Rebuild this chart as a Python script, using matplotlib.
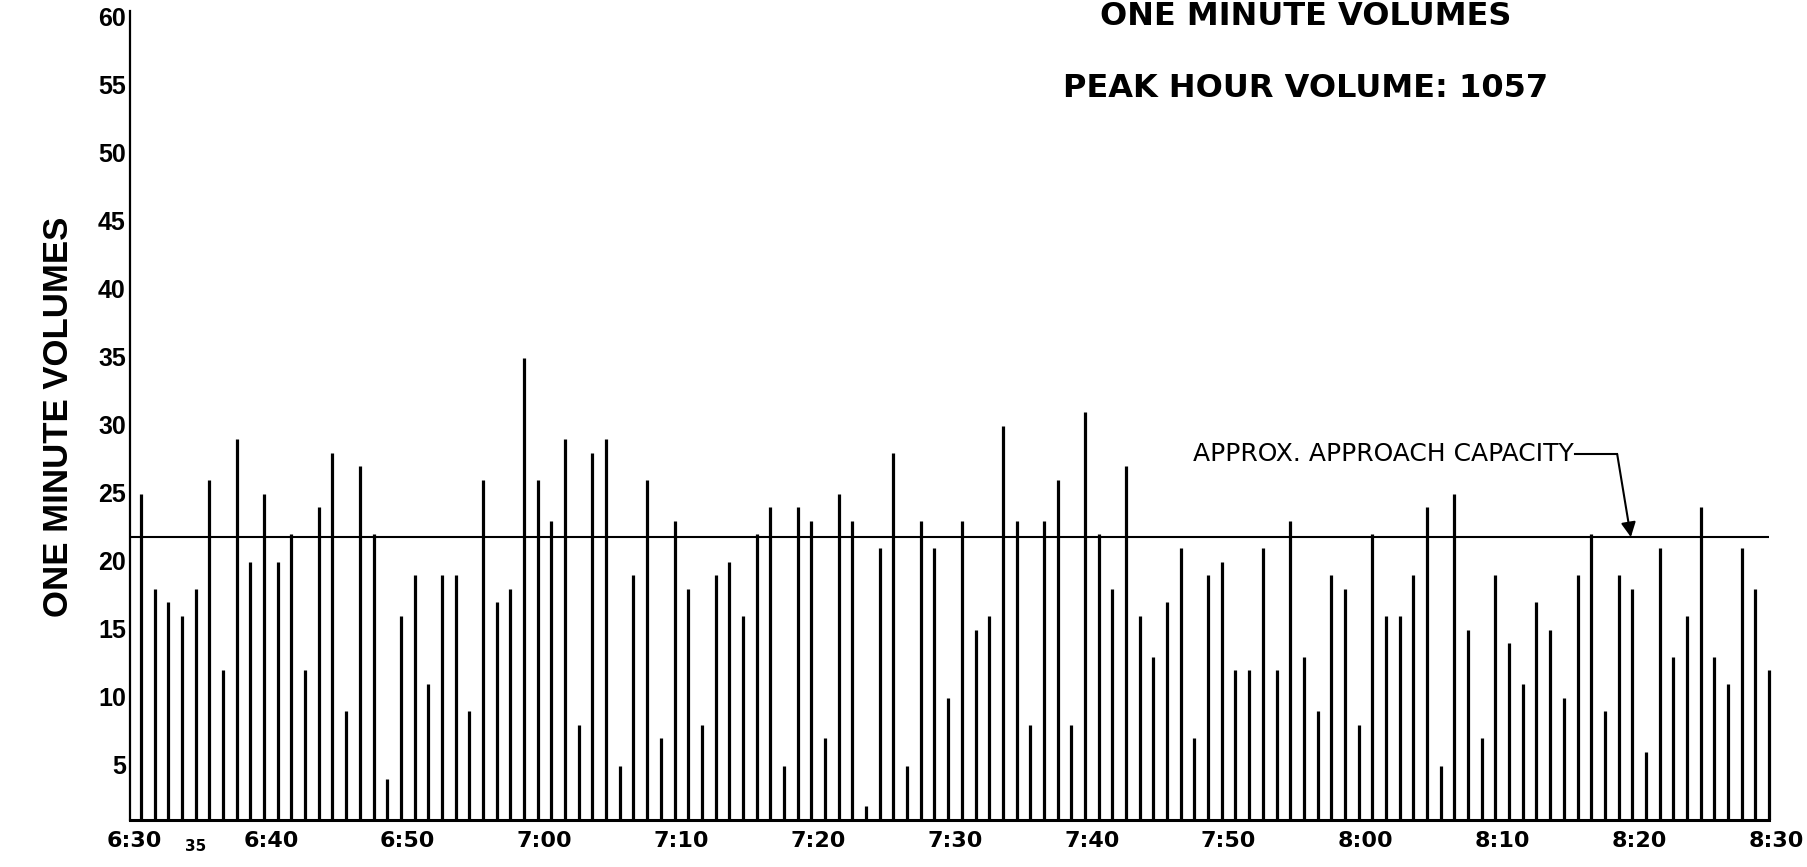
import numpy as np
import matplotlib
matplotlib.use('Agg')
import matplotlib.pyplot as plt
from matplotlib.transforms import ScaledTranslation

# one minute volumes, 6:30 - 8:30 (one value per minute)
volumes = [24, 17, 16, 15, 17, 25, 11, 28, 19, 24,
           19, 21, 11, 23, 27, 8, 26, 21, 3, 15,
           18, 10, 18, 18, 8, 25, 16, 17, 34, 25,
           22, 28, 7, 27, 28, 4, 18, 25, 6, 22,
           17, 7, 18, 19, 15, 21, 23, 4, 23, 22,
           6, 24, 22, 1, 20, 27, 4, 22, 20, 9,
           22, 14, 15, 29, 22, 7, 22, 25, 7, 30,
           21, 17, 26, 15, 12, 16, 20, 6, 18, 19,
           11, 11, 20, 11, 22, 12, 8, 18, 17, 7,
           21, 15, 15, 18, 23, 4, 24, 14, 6, 18,
           13, 10, 16, 14, 9, 18, 21, 8, 18, 17,
           5, 20, 12, 15, 23, 12, 10, 20, 17, 11]
capacity = 20.8

tick_minutes = list(range(0, 121, 10))
tick_labels = ['6:30', '6:40', '6:50', '7:00', '7:10', '7:20', '7:30',
               '7:40', '7:50', '8:00', '8:10', '8:20', '8:30']
ytick_vals = list(range(5, 61, 5))

plt.rcParams['font.family'] = ['DejaVu Sans']
plt.rcParams['font.weight'] = 'bold'
NARROW = ['Liberation Sans Narrow', 'Liberation Sans', 'DejaVu Sans']

fig = plt.figure(figsize=(18.07, 8.67), dpi=100)
ax = fig.add_axes([130/1807, 47/867, 1650/1807, 816/867])

minutes = np.arange(len(volumes)) + 0.5
ax.vlines(minutes, 0, volumes, color='black', lw=2.3)
ax.hlines(capacity, -0.3, minutes[-1], color='black', lw=1.5)

ax.set_xlim(-0.3, 120.3)
ax.set_ylim(0, 60)
ax.spines['top'].set_visible(False)
ax.spines['right'].set_visible(False)
ax.spines['left'].set_bounds(0, 59.5)
ax.spines['bottom'].set_bounds(-0.3, minutes[-1])
ax.spines['left'].set_linewidth(1.6)
ax.spines['bottom'].set_linewidth(2.2)

ax.set_xticks(tick_minutes, tick_labels)
ax.set_xticks([4.5], ['35'], minor=True)
ax.set_yticks(ytick_vals, [str(v) for v in ytick_vals])
ax.tick_params(axis='both', which='both', length=0)
ax.tick_params(axis='x', which='major', pad=8, labelsize=16)
ax.tick_params(axis='x', which='minor', pad=14, labelsize=11)
ax.tick_params(axis='y', pad=3)

# hand lettered y labels sit a bit below their values
off = ScaledTranslation(0, -0.12, fig.dpi_scale_trans)
for lab in ax.get_yticklabels():
    lab.set_transform(lab.get_transform() + off)
    lab.set_family(NARROW)
    lab.set_fontsize(18)

ax.set_ylabel('ONE MINUTE VOLUMES', fontsize=25, fontweight='bold',
              family=NARROW)
ax.yaxis.set_label_coords(-55/1650, (820-417)/816)

fig.text(1306/1807, 1 - 25/867, 'ONE MINUTE VOLUMES', ha='center',
         va='baseline', fontsize=23)
fig.text(1306/1807, 1 - 97/867, 'PEAK HOUR VOLUME: 1057', ha='center',
         va='baseline', fontsize=23)

ax.text(105.2, 26.9, 'APPROX. APPROACH CAPACITY', ha='right', va='center',
        fontsize=18, fontweight='normal')
ax.plot([105.3, 108.4], [26.9, 26.9], color='black', lw=1.5)
ax.annotate('', xy=(109.4, capacity), xytext=(108.4, 26.9),
            arrowprops=dict(arrowstyle='-|>', color='black', lw=1.5,
                            mutation_scale=22, shrinkA=0, shrinkB=0))

fig.savefig('out.png', dpi=100)
